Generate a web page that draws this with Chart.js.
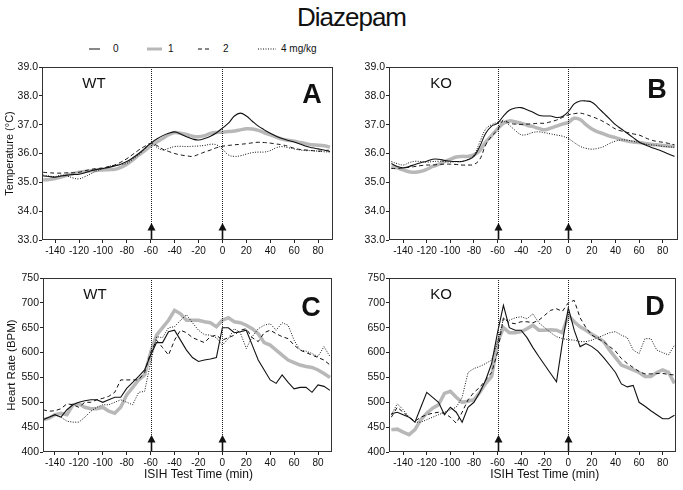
<!DOCTYPE html>
<html><head><meta charset="utf-8">
<script src="https://cdn.jsdelivr.net/npm/chart.js@4.4.1/dist/chart.umd.min.js"></script>
<style>
body{margin:0;background:#fff;width:683px;height:490px;position:relative;overflow:hidden;font-family:"Liberation Sans",Arial,sans-serif;color:#111;}
canvas{position:absolute;}
#title{position:absolute;left:0;width:703px;top:4px;text-align:center;font-size:26px;line-height:26px;letter-spacing:-1px;}
.lg{position:absolute;font-size:10px;line-height:12px;top:43px;white-space:nowrap;}
.ls{position:absolute;top:46px;}
</style></head>
<body>
<div id="title">Diazepam</div>
<svg class="ls" style="left:89px" width="11" height="6"><line x1="0" y1="3" x2="11" y2="3" stroke="#111" stroke-width="1"/></svg>
<div class="lg" id="lg0" style="left:113px"></div>
<svg class="ls" style="left:147px" width="15" height="6"><line x1="0" y1="3" x2="15" y2="3" stroke="#b8b8b8" stroke-width="3"/></svg>
<div class="lg" id="lg1" style="left:168px"></div>
<svg class="ls" style="left:198px" width="11" height="6"><line x1="0" y1="3" x2="11" y2="3" stroke="#111" stroke-width="1" stroke-dasharray="4 3"/></svg>
<div class="lg" id="lg2" style="left:223px"></div>
<svg class="ls" style="left:258px" width="18" height="6"><line x1="0" y1="3" x2="18" y2="3" stroke="#111" stroke-width="1" stroke-dasharray="1 1.5"/></svg>
<div class="lg" id="lg3" style="left:281px"></div>
<canvas id="cA" width="345" height="200" style="left:0;top:55px"></canvas>
<canvas id="cB" width="338" height="200" style="left:345px;top:55px"></canvas>
<canvas id="cC" width="345" height="225" style="left:0;top:265px"></canvas>
<canvas id="cD" width="338" height="225" style="left:345px;top:265px"></canvas>
<script>
const minutes = [-150,-145,-140,-135,-130,-125,-120,-115,-110,-105,-100,-95,-90,-85,-80,-75,-70,-65,-60,-55,-50,-45,-40,-35,-30,-25,-20,-15,-10,-5,0,5,10,15,20,25,30,35,40,45,50,55,60,65,70,75,80,85,90];
const timeTicks = [-140,-120,-100,-80,-60,-40,-20,0,20,40,60,80];
const tempTicks = [33,34,35,36,37,38,39];
const hrTicks = [400,450,500,550,600,650,700,750];
const doseLabels = ['0','1','2','4 mg/kg'];
const markerTimes = [-60, 0];

// Panel A: WT temperature
const tempWT_0 = [35.22,35.20,35.18,35.22,35.25,35.27,35.28,35.33,35.40,35.45, 35.48,35.52,35.57,35.63,35.72,35.85,36.00,36.18,36.35,36.50, 36.62,36.70,36.75,36.68,36.58,36.50,36.47,36.52,36.60,36.72, 36.88,37.05,37.30,37.40,37.30,37.12,36.95,36.82,36.70,36.60, 36.52,36.45,36.40,36.33,36.25,36.20,36.16,36.12,36.07];
const tempWT_1 = [35.08,35.10,35.13,35.18,35.25,35.30,35.35,35.38,35.40,35.42, 35.43,35.44,35.45,35.52,35.63,35.78,35.95,36.10,36.27,36.40, 36.52,36.65,36.73,36.70,36.66,36.60,36.58,36.62,36.70,36.73, 36.74,36.76,36.78,36.82,36.86,36.85,36.80,36.72,36.65,36.57, 36.50,36.46,36.43,36.38,36.34,36.30,36.29,36.27,36.22];
const tempWT_2 = [35.35,35.33,35.32,35.32,35.33,35.33,35.35,35.40,35.45,35.48, 35.50,35.55,35.60,35.70,35.82,35.97,36.12,36.25,36.35,36.28, 36.15,36.07,36.00,35.95,35.92,35.90,35.97,36.05,36.12,36.20, 36.25,36.28,36.30,36.32,36.34,36.37,36.39,36.38,36.36,36.33, 36.30,36.25,36.18,36.14,36.12,36.10,36.08,36.10,36.12];
const tempWT_4 = [35.25,35.22,35.20,35.25,35.22,35.15,35.12,35.20,35.30,35.40, 35.47,35.55,35.60,35.62,35.66,35.80,35.96,36.15,36.35,36.22, 36.12,36.18,36.24,36.25,36.24,36.25,36.26,36.28,36.32,36.30, 36.15,35.95,35.90,35.92,35.98,36.03,36.05,36.05,36.10,36.20, 36.24,36.20,36.16,36.12,36.10,36.10,36.08,36.06,36.05];
// Panel B: KO temperature
const tempKO_0 = [35.65,35.55,35.50,35.55,35.62,35.68,35.73,35.80,35.80,35.76, 35.73,35.72,35.72,35.78,35.90,36.25,36.70,36.95,37.05,37.30, 37.50,37.58,37.59,37.52,37.43,37.33,37.30,37.30,37.25,37.28, 37.45,37.72,37.82,37.82,37.78,37.60,37.40,37.20,37.00,36.85, 36.70,36.55,36.40,36.30,36.22,36.15,36.07,35.98,35.90];
const tempKO_1 = [35.55,35.50,35.43,35.37,35.35,35.38,35.45,35.55,35.62,35.72, 35.80,35.88,35.90,35.90,35.95,36.10,36.40,36.62,36.85,37.05, 37.13,37.10,37.05,36.98,36.93,36.87,36.82,36.88,36.95,37.02, 37.08,37.22,37.18,37.00,36.85,36.75,36.68,36.60,36.55,36.48, 36.43,36.40,36.38,36.35,36.32,36.30,36.28,36.26,36.24];
const tempKO_2 = [35.48,35.48,35.50,35.52,35.55,35.58,35.60,35.60,35.62,35.63, 35.63,35.62,35.60,35.60,35.62,35.80,36.30,36.60,36.82,37.16, 37.05,37.02,37.01,37.02,37.03,37.05,37.05,37.10,37.16,37.25, 37.34,37.38,37.40,37.35,37.28,37.20,37.10,36.98,36.85,36.78, 36.73,36.68,36.64,36.55,36.47,36.42,36.39,36.35,36.30];
const tempKO_4 = [35.72,35.65,35.60,35.68,35.73,35.72,35.70,35.72,35.73,35.72, 35.70,35.72,35.73,35.80,35.95,36.40,36.85,37.00,37.08,37.12, 36.98,36.80,36.65,36.66,36.73,36.75,36.72,36.68,36.64,36.60, 36.52,36.38,36.25,36.18,36.15,36.18,36.24,36.35,36.43,36.47, 36.46,36.42,36.38,36.33,36.30,36.28,36.25,36.23,36.22];
// Panel C: WT heart rate
const hrWT_0 = [465,470,475,470,485,495,500,503,505,505, 500,505,510,510,528,540,552,565,595,620, 620,642,645,625,605,590,582,585,587,590, 650,650,640,642,645,615,585,565,545,538, 555,540,527,530,530,520,535,532,524];
const hrWT_1 = [465,468,475,478,475,495,497,490,487,487, 490,482,478,490,515,530,545,555,600,635, 650,665,685,678,665,665,665,662,660,652, 665,670,662,660,655,648,638,620,615,605, 595,585,580,575,572,570,565,558,550];
const hrWT_2 = [485,482,483,487,497,495,490,500,500,505, 508,512,520,545,545,545,545,560,600,625, 610,595,625,645,640,630,625,620,632,635, 625,630,635,645,648,630,622,640,645,638, 632,628,615,605,600,595,590,585,575];
const hrWT_4 = [465,470,475,470,462,460,460,470,482,490, 495,495,500,505,500,495,520,522,580,632, 630,650,652,665,676,660,645,636,635,630, 615,628,648,640,608,632,648,655,658,645, 660,655,625,605,603,598,592,612,592];
// Panel D: KO heart rate
const hrKO_0 = [477,480,475,470,460,490,520,510,500,475, 490,480,460,490,500,520,545,578,640,695, 650,645,645,630,610,592,575,558,541,620, 690,645,612,618,612,603,590,575,560,537, 531,534,500,492,483,475,467,467,474];
const hrKO_1 = [445,446,440,435,445,465,478,488,495,518, 522,510,500,502,505,520,538,552,620,650, 640,640,642,648,655,645,645,646,645,640, 675,662,652,645,637,630,622,605,590,575, 570,565,560,552,552,560,565,560,538];
const hrKO_2 = [470,490,480,470,462,470,475,478,480,478, 470,458,480,505,520,530,545,560,600,670, 660,658,662,662,660,665,675,685,688,683, 700,705,670,650,635,628,622,612,603,588, 578,570,562,557,557,558,558,556,555];
const hrKO_4 = [475,497,485,470,460,460,465,470,475,480, 485,490,510,560,568,572,578,585,620,668, 665,670,672,668,678,660,650,640,632,628, 626,625,622,622,625,630,635,640,642,635, 630,605,598,628,628,605,600,595,615];

doseLabels.forEach((t,i)=>{document.getElementById('lg'+i).textContent=t;});

const FONT = '"Liberation Sans", Arial, sans-serif';
const lineStyles = [
  {color:'#111', width:1.1, dash:[], order:0},
  {color:'#b8b8b8', width:3.5, dash:[], order:2},
  {color:'#111', width:1, dash:[4,3], order:0},
  {color:'#111', width:1, dash:[1,1.5], order:0}
];

const decoPlugin = {
  id: 'deco',
  afterDraw(chart, args, o) {
    const {ctx, chartArea: a} = chart;
    const x = chart.scales.x;
    ctx.save();
    ctx.strokeStyle = '#222'; ctx.lineWidth = 1; ctx.setLineDash([1,1]);
    markerTimes.forEach(t => {
      const px = Math.round(x.getPixelForValue(t)) + 0.5;
      ctx.beginPath(); ctx.moveTo(px, a.top); ctx.lineTo(px, a.bottom); ctx.stroke();
    });
    ctx.setLineDash([]);
    markerTimes.forEach(t => {
      const px = Math.round(x.getPixelForValue(t)) + 0.5;
      ctx.fillStyle = '#111';
      ctx.beginPath(); ctx.moveTo(px, a.bottom - 17); ctx.lineTo(px - 4, a.bottom - 9.5); ctx.lineTo(px + 4, a.bottom - 9.5); ctx.closePath(); ctx.fill();
      ctx.strokeStyle = '#111'; ctx.lineWidth = 1.6;
      ctx.beginPath(); ctx.moveTo(px, a.bottom - 10); ctx.lineTo(px, a.bottom); ctx.stroke();
    });
    ctx.lineWidth = 1; ctx.strokeStyle = '#333';
    ctx.strokeRect(a.left + 0.5, a.top + 0.5, a.right - a.left - 1, a.bottom - a.top - 1);
    ctx.fillStyle = '#111'; ctx.textAlign = 'center'; ctx.textBaseline = 'alphabetic';
    ctx.font = '15px ' + FONT;
    ctx.fillText(o.group, a.left + 52, a.top + 21);
    ctx.font = 'bold 27px ' + FONT;
    ctx.fillText(o.letter, a.right - 21, a.top + o.letterDy);
    if (o.xTitle) {
      ctx.font = '12px ' + FONT; ctx.textBaseline = 'middle';
      ctx.fillText(o.xTitle, x.getPixelForValue(-20), a.bottom + 23);
    }
    ctx.restore();
  }
};

function makePanel(p) {
  const datasets = p.series.map((vals, i) => ({
    label: doseLabels[i],
    data: minutes.map((m, j) => ({x: m, y: vals[j]})),
    borderColor: lineStyles[i].color,
    borderWidth: lineStyles[i].width,
    borderDash: lineStyles[i].dash,
    order: lineStyles[i].order,
    pointRadius: 0,
    tension: p.tension,
    fill: false
  }));
  new Chart(document.getElementById(p.id), {
    type: 'line',
    data: {datasets},
    plugins: [decoPlugin],
    options: {
      responsive: false, animation: false, devicePixelRatio: 1,
      layout: {padding: {top: p.padTop, right: p.padRight, bottom: 0, left: 0}},
      plugins: {
        legend: {display: false}, tooltip: {enabled: false},
        deco: {group: p.group, letter: p.letter, letterDy: p.letterDy, xTitle: p.xTitle}
      },
      scales: {
        x: {
          type: 'linear', min: p.xMin, max: p.xMax,
          afterBuildTicks: s => { s.ticks = timeTicks.map(v => ({value: v})); },
          afterFit: s => { s.height = p.xHeight; },
          grid: {display: true, drawOnChartArea: false, drawTicks: true, tickLength: 3, color: '#222'},
          border: {display: false},
          ticks: {color: '#111', font: {family: FONT, size: 10}, padding: 2, maxRotation: 0, autoSkip: false}
        },
        y: {
          type: 'linear', min: p.yTicks[0], max: p.yTicks[p.yTicks.length - 1],
          afterBuildTicks: s => { s.ticks = p.yTicks.map(v => ({value: v})); },
          afterFit: s => { s.width = p.yWidth; },
          grid: {display: true, drawOnChartArea: false, drawTicks: true, tickLength: 3, color: '#222'},
          border: {display: false},
          ticks: {color: '#111', font: {family: FONT, size: 10.5}, padding: 1, callback: v => v.toFixed(p.decimals)},
          title: {display: !!p.yTitle, text: p.yTitle || '', color: '#111', font: {family: FONT, size: p.yTitleSize || 11}, padding: {top: p.yTitlePad || 0, bottom: 0}}
        }
      }
    }
  });
}

makePanel({id: 'cA', series: [tempWT_0, tempWT_1, tempWT_2, tempWT_4], yTicks: tempTicks, decimals: 1, tension: 0.4,
  xMin: -151, xMax: 92.5, yWidth: 42, xHeight: 15, padTop: 12, padRight: 12,
  yTitle: 'Temperature (°C)', yTitlePad: 3, yTitleSize: 11, group: 'WT', letter: 'A', letterDy: 36});
makePanel({id: 'cB', series: [tempKO_0, tempKO_1, tempKO_2, tempKO_4], yTicks: tempTicks, decimals: 1, tension: 0.4,
  xMin: -152, xMax: 93, yWidth: 44, xHeight: 15, padTop: 12, padRight: 5,
  group: 'KO', letter: 'B', letterDy: 31});
makePanel({id: 'cC', series: [hrWT_0, hrWT_1, hrWT_2, hrWT_4], yTicks: hrTicks, decimals: 0, tension: 0,
  xMin: -150, xMax: 91.7, yWidth: 43, xHeight: 38, padTop: 13, padRight: 13,
  yTitle: 'Heart Rate (BPM)', yTitlePad: 5, yTitleSize: 11.5, group: 'WT', letter: 'C', letterDy: 38, xTitle: 'ISIH Test Time (min)'});
makePanel({id: 'cD', series: [hrKO_0, hrKO_1, hrKO_2, hrKO_4], yTicks: hrTicks, decimals: 0, tension: 0,
  xMin: -152, xMax: 91.3, yWidth: 44, xHeight: 38, padTop: 13, padRight: 7,
  group: 'KO', letter: 'D', letterDy: 37, xTitle: 'ISIH Test Time (min)'});
</script>
</body></html>
